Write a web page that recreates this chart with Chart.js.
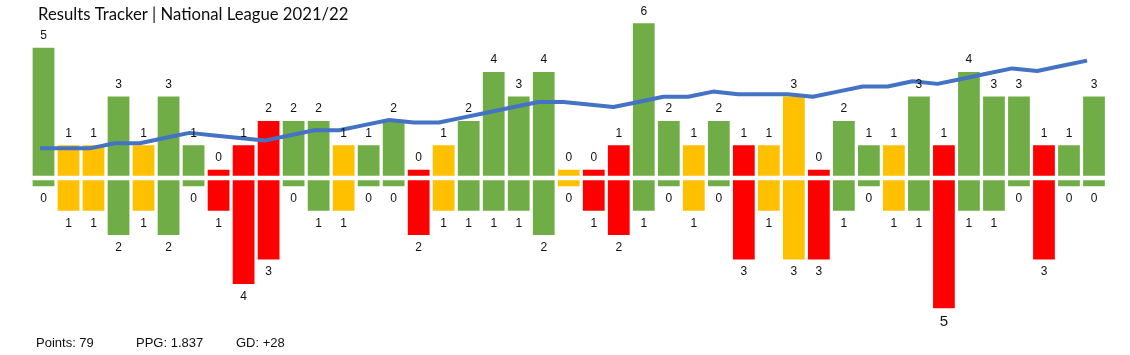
<!DOCTYPE html>
<html>
<head>
<meta charset="utf-8">
<script src="https://cdn.jsdelivr.net/npm/chart.js@4/dist/chart.umd.min.js"></script>
<style>
  html, body { margin: 0; padding: 0; background: #ffffff; }
  #wrap { position: relative; width: 1130px; height: 355px; }
</style>
</head>
<body>
<div id="wrap"><canvas id="c" width="1130" height="355"></canvas></div>
<script>
// ---- Data ----
const games = ['1','2','3','4','5','6','7','8','9','10','11','12','13','14','15','16','17','18','19','20','21','22',
               '23','24','25','26','27','28','29','30','31','32','33','34','35','36','37','38','39','40','41','42','43'];
const goalsFor     = [5,1,1,3,1,3,1,0,1,2,2,2,1,1,2,0,1,2,4,3,4,0,0,1,6,2,1,2,1,1,3,0,2,1,1,3,1,4,3,3,1,1,3];
const goalsAgainst = [0,1,1,2,1,2,0,1,4,3,0,1,1,0,0,2,1,1,1,1,2,0,1,2,1,0,1,0,3,1,3,3,1,0,1,1,5,1,1,0,3,0,0];
// running "points above one per game" trend line
const trendLine    = [2,2,2,4,4,6,8,7,6,5,7,9,9,11,13,12,12,14,16,18,20,20,19,18,20,22,22,24,23,23,23,22,24,26,26,28,27,29,31,33,32,34,36];
const titleText  = 'Results Tracker | National League 2021/22';
const footerText = ['Points: 79', 'PPG: 1.837', 'GD: +28'];

// ---- Styles ----
const GREEN = '#70AD47', AMBER = '#FFC000', RED = '#FF0000', BLUE = '#4472C4';
const GAP = 0.09, STUB = 0.25;
const colours = goalsFor.map((f, i) => f > goalsAgainst[i] ? GREEN : (f === goalsAgainst[i] ? AMBER : RED));

const labelPlugin = {
  id: 'resultLabels',
  afterDatasetsDraw(chart, args, opts) {
    const ctx = chart.ctx;
    ctx.save();
    ctx.fillStyle = '#111111';
    ctx.textAlign = 'center';
    ctx.textBaseline = 'middle';
    [1, 2].forEach(di => {
      const meta = chart.getDatasetMeta(di);
      const vals = di === 1 ? goalsFor : goalsAgainst;
      meta.data.forEach((bar, i) => {
        const big = opts.big && opts.big.dataset === di && opts.big.index === i;
        ctx.font = (big ? opts.big.size : 12) + 'px "Liberation Sans", Arial, sans-serif';
        const y = di === 1 ? bar.y - 12 : bar.y + (big ? 13.5 : 12.5);
        ctx.fillText(String(vals[i]), bar.x, y);
      });
    });
    // title
    ctx.textAlign = 'left';
    ctx.textBaseline = 'alphabetic';
    ctx.fillStyle = '#0d0d0d';
    ctx.font = '16.7px Lato, "Open Sans", sans-serif';
    ctx.fillText(titleText, 38, 19.5);
    // footer
    ctx.fillStyle = '#111111';
    ctx.font = '13px "Liberation Sans", Arial, sans-serif';
    const fx = [36, 136, 236];
    footerText.forEach((t, i) => ctx.fillText(t, fx[i], 347));
    ctx.restore();
  }
};

new Chart(document.getElementById('c'), {
  data: {
    labels: games,
    datasets: [
      {
        type: 'line',
        label: 'Trend',
        data: trendLine.map((v, i) => ({ x: i, y: v })),
        xAxisID: 'x2',
        yAxisID: 'y2',
        borderColor: BLUE,
        borderWidth: 4,
        pointRadius: 0,
        tension: 0,
        borderJoinStyle: 'round',
        order: 0
      },
      {
        type: 'bar',
        label: 'Scored',
        data: goalsFor.map(g => [GAP, GAP + STUB + g]),
        backgroundColor: colours,
        grouped: false,
        barPercentage: 0.87,
        categoryPercentage: 1,
        order: 1
      },
      {
        type: 'bar',
        label: 'Conceded',
        data: goalsAgainst.map(g => [-GAP, -(GAP + STUB + g)]),
        backgroundColor: colours,
        grouped: false,
        barPercentage: 0.87,
        categoryPercentage: 1,
        order: 1
      }
    ]
  },
  options: {
    responsive: false,
    devicePixelRatio: 1,
    animation: false,
    layout: { padding: { left: 31, right: 23.5, top: 19.4, bottom: 18.4 } },
    plugins: {
      legend: { display: false },
      title: { display: false },
      tooltip: { enabled: false },
      resultLabels: { big: { dataset: 2, index: 36, size: 15 } }
    },
    scales: {
      x:  { type: 'category', display: false, offset: true },
      y:  { type: 'linear', display: false, min: -6.5, max: 6.5 },
      x2: { type: 'linear', display: false, min: -0.361, max: 42.78 },
      y2: { type: 'linear', display: false, min: -71, max: 52 }
    }
  },
  plugins: [labelPlugin]
});
</script>
</body>
</html>
